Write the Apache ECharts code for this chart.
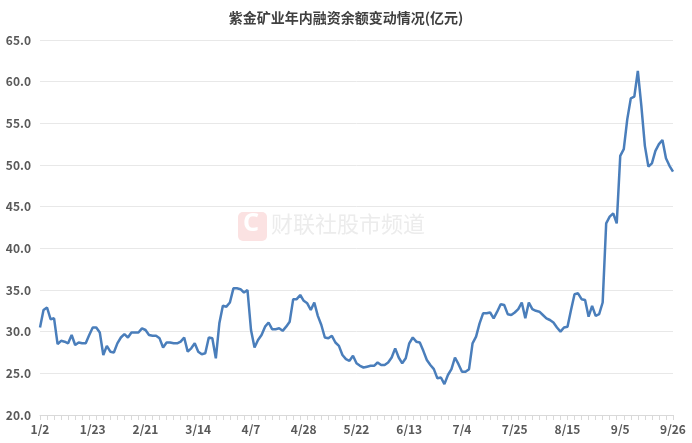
<!DOCTYPE html>
<html><head><meta charset="utf-8">
<script src="https://cdn.jsdelivr.net/npm/echarts@6/dist/echarts.min.js"></script>
<style>html,body{margin:0;padding:0;background:#fff}#c{width:692px;height:443px}</style>
</head><body><div id="c"></div>
<script>
const titleText = '紫金矿业年内融资余额变动情况(亿元)';
const dates = [
'1/2','1/3','1/6','1/7','1/8','1/9','1/10','1/13','1/14','1/15','1/16','1/17','1/20','1/21','1/22','1/23','1/24','1/27',
'2/5','2/6','2/7','2/10','2/11','2/12','2/13','2/14','2/17','2/18','2/19','2/20','2/21','2/24','2/25','2/26','2/27','2/28',
'3/3','3/4','3/5','3/6','3/7','3/10','3/11','3/12','3/13','3/14','3/17','3/18','3/19','3/20','3/21','3/24','3/25','3/26','3/27','3/28','3/31',
'4/1','4/2','4/3','4/7','4/8','4/9','4/10','4/11','4/14','4/15','4/16','4/17','4/18','4/21','4/22','4/23','4/24','4/25','4/28','4/29','4/30',
'5/6','5/7','5/8','5/9','5/12','5/13','5/14','5/15','5/16','5/19','5/20','5/21','5/22','5/23','5/26','5/27','5/28','5/29','5/30',
'6/3','6/4','6/5','6/6','6/9','6/10','6/11','6/12','6/13','6/16','6/17','6/18','6/19','6/20','6/23','6/24','6/25','6/26','6/27','6/30',
'7/1','7/2','7/3','7/4','7/7','7/8','7/9','7/10','7/11','7/14','7/15','7/16','7/17','7/18','7/21','7/22','7/23','7/24','7/25','7/28','7/29','7/30','7/31',
'8/1','8/4','8/5','8/6','8/7','8/8','8/11','8/12','8/13','8/14','8/15','8/18','8/19','8/20','8/21','8/22','8/25','8/26','8/27','8/28','8/29',
'9/1','9/2','9/3','9/4','9/5','9/8','9/9','9/10','9/11','9/12','9/15','9/16','9/17','9/18','9/19','9/22','9/23','9/24','9/25','9/26'
];
const balance = [
30.5,32.6,32.9,31.5,31.6,28.5,28.9,28.8,28.6,29.6,28.4,28.7,28.6,28.6,29.6,30.5,30.5,29.9,27.2,28.3,
27.6,27.5,28.6,29.3,29.7,29.3,29.9,29.9,29.9,30.4,30.2,29.6,29.5,29.5,29.2,28.1,28.7,28.7,28.6,28.6,
28.8,29.3,27.6,28.0,28.6,27.6,27.3,27.4,29.3,29.2,26.8,31.0,33.1,33.0,33.5,35.2,35.2,35.1,34.7,35.0,
30.2,28.1,29.0,29.6,30.6,31.1,30.3,30.3,30.4,30.1,30.6,31.2,33.9,33.9,34.4,33.7,33.4,32.6,33.5,31.9,
30.8,29.3,29.2,29.5,28.7,28.3,27.2,26.7,26.5,27.1,26.2,25.9,25.7,25.8,25.9,25.9,26.3,26.0,26.0,26.3,
26.9,28.0,26.9,26.2,26.8,28.6,29.3,28.8,28.7,27.7,26.6,26.0,25.5,24.4,24.5,23.7,24.8,25.5,26.9,26.1,
25.2,25.2,25.5,28.6,29.4,31.0,32.2,32.2,32.3,31.6,32.4,33.3,33.2,32.1,32.0,32.3,32.7,33.5,31.6,33.5,
32.7,32.5,32.4,32.0,31.6,31.4,31.1,30.5,30.0,30.5,30.6,32.6,34.5,34.6,33.9,33.8,31.8,33.1,31.9,32.1,
33.5,43.0,43.8,44.2,43.0,51.1,51.9,55.5,58.0,58.2,61.3,57.1,52.3,49.8,50.2,51.7,52.5,53.0,50.8,49.9,
49.2
];
const yMin = 20, yMax = 65, yStep = 5;
const watermarkText = '财联社股市频道';

const chart = echarts.init(document.getElementById('c'), null, {renderer:'canvas'});
const font = '"Noto Sans CJK SC","Noto Sans",sans-serif';
chart.setOption({
  animation:false,
  backgroundColor:'#fff',
  title:{text:titleText,left:'center',top:6,
    textStyle:{fontFamily:font,fontSize:14,fontWeight:'bold',color:'#404040'}},
  graphic:[
    {type:'rect',left:238,top:212,shape:{width:29,height:29,r:5},style:{fill:'#fbe2e2'},z:0},
    {type:'text',left:243,top:211,style:{text:'C',font:'bold 25px "Noto Sans",sans-serif',fill:'#ffffff'},z:0},
    {type:'text',left:271,top:213,style:{text:watermarkText,font:'22px "Noto Sans CJK SC",sans-serif',fill:'#ececec'},z:0}
  ],
  grid:{left:40,right:19,top:40,bottom:28,containLabel:false},
  xAxis:{type:'category',data:dates,boundaryGap:false,
    axisLine:{lineStyle:{color:'#d9d9d9'}},
    axisTick:{interval:1,length:5,lineStyle:{color:'#d9d9d9'}},
    axisLabel:{interval:14,color:'#595959',fontFamily:font,fontSize:12,fontWeight:'bold',margin:8}},
  yAxis:{type:'value',min:yMin,max:yMax,interval:yStep,
    axisLine:{show:false},axisTick:{show:false},
    splitLine:{lineStyle:{color:'#e8e8e8'}},
    axisLabel:{color:'#595959',fontFamily:font,fontSize:12,fontWeight:'bold',margin:9,
      formatter:v=>v.toFixed(1)}},
  series:[{type:'line',data:balance,showSymbol:false,symbol:'none',
    lineStyle:{color:'#4a7ebb',width:2.5},z:3}]
});
</script></body></html>
